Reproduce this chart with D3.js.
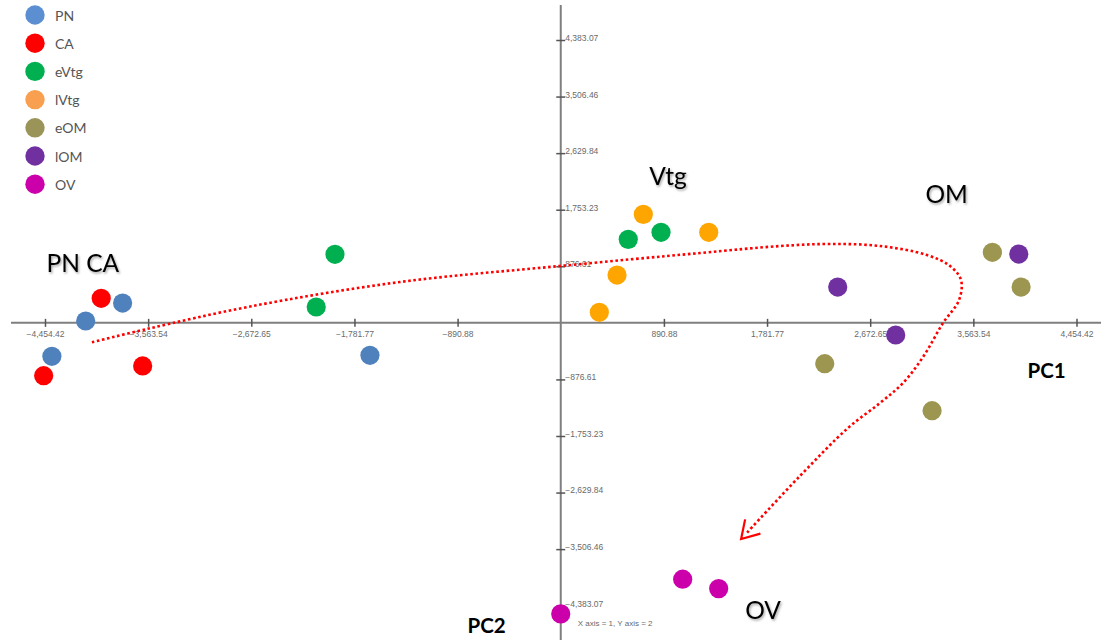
<!DOCTYPE html>
<html>
<head>
<meta charset="utf-8">
<script src="https://cdn.jsdelivr.net/npm/d3@7"></script>
<style>
  body { margin: 0; background: #fff; }
  svg { display: block; }
  .tick text { font-family: "Liberation Sans", Arial, sans-serif; font-size: 8.5px; fill: #6a6a6a; }
  .tick line { stroke: #555; stroke-width: 1.5; }
</style>
</head>
<body>
<div id="chart"></div>
<script>
// groups and colours
var groups = ["PN", "CA", "eVtg", "lVtg", "eOM", "lOM", "OV"];
var pointColors = ["#4f81bd", "#ff0000", "#00b050", "#ffa500", "#9c9650", "#7030a0", "#cc00aa"];
var legendColors = ["#5b8fd2", "#ff0000", "#00b050", "#f8a050", "#9a9458", "#7030a0", "#cc00aa"];

// PC1 / PC2 scores per group
var pnPC1 = [-3784, -4103, -4395, -1648];
var pnPC2 = [307, 29, -518, -503];
var caPC1 = [-3969, -4466, -3611];
var caPC2 = [380, -819, -668];
var eVtgPC1 = [-1950, -2112, 583, 866];
var eVtgPC2 = [1062, 246, 1294, 1403];
var lVtgPC1 = [713, 1278, 486, 333];
var lVtgPC2 = [1681, 1403, 741, 163];
var eOmPC1 = [3728, 3976, 2280, 3207];
var eOmPC2 = [1093, 555, -633, -1361];
var lOmPC1 = [3956, 2392, 2893];
var lOmPC2 = [1066, 555, -188];
var ovPC1 = [1053, 1364, 0];
var ovPC2 = [-3972, -4118, -4510];

// axis ticks
var xTicks = [-4454.42, -3563.54, -2672.65, -1781.77, -890.88, 890.88, 1781.77, 2672.65, 3563.54, 4454.42];
var yTicks = [-4383.07, -3506.46, -2629.84, -1753.23, -876.61, 876.61, 1753.23, 2629.84, 3506.46, 4383.07];

// trajectory drawn over the scores
var trajPC1 = [-4049, -3574, -2684, -1388, -6, 1203, 1894, 2326, 2757, 3163, 3362, 3457, 3440, 3302, 3129, 2956, 2757, 2481, 2066, 1605];
var trajPC2 = [-301, -95, 253, 633, 881, 1082, 1190, 1222, 1191, 1051, 881, 664, 354, -2, -529, -932, -1242, -1629, -2373, -3258];

var pc1 = [pnPC1, caPC1, eVtgPC1, lVtgPC1, eOmPC1, lOmPC1, ovPC1];
var pc2 = [pnPC2, caPC2, eVtgPC2, lVtgPC2, eOmPC2, lOmPC2, ovPC2];

var points = [];
groups.forEach(function(g, i) {
  pc1[i].forEach(function(v, j) {
    points.push({group: g, color: pointColors[i], x: v, y: pc2[i][j]});
  });
});

var width = 1101, height = 640;
var svg = d3.select("#chart").append("svg")
  .attr("width", width)
  .attr("height", height);

var defs = svg.append("defs");
var shadow = defs.append("filter").attr("id", "shadow")
  .attr("x", "-20%").attr("y", "-20%").attr("width", "150%").attr("height", "160%");
shadow.append("feDropShadow")
  .attr("dx", 1.2).attr("dy", 1.6).attr("stdDeviation", 1.3)
  .attr("flood-color", "#000").attr("flood-opacity", 0.35);

var x = d3.scaleLinear().domain([-4454.42, 4454.42]).range([45, 1076.5]);
var y = d3.scaleLinear().domain([-4383.07, 4383.07]).range([605.7, 40]);
var fmt = d3.format(",.2f");

// axis lines through the origin
svg.append("line")
  .attr("x1", 11).attr("x2", width)
  .attr("y1", y(0)).attr("y2", y(0))
  .attr("stroke", "#7f7f7f").attr("stroke-width", 2);
svg.append("line")
  .attr("x1", x(0)).attr("x2", x(0))
  .attr("y1", 5).attr("y2", height)
  .attr("stroke", "#7f7f7f").attr("stroke-width", 2);

var xAxis = d3.axisBottom(x).tickValues(xTicks).tickFormat(fmt).tickSize(8).tickPadding(4.5);
svg.append("g")
  .attr("transform", "translate(0," + (y(0) - 4) + ")")
  .call(xAxis)
  .call(function(g) { g.select(".domain").remove(); });

var yAxis = d3.axisRight(y).tickValues(yTicks).tickFormat(fmt).tickSize(9).tickPadding(0);
svg.append("g")
  .attr("transform", "translate(" + (x(0) - 4.5) + ",0)")
  .call(yAxis)
  .call(function(g) {
    g.select(".domain").remove();
    g.selectAll("text").attr("dy", "0.05em");
  });

// dotted trajectory
var traj = trajPC1.map(function(v, i) { return [x(v), y(trajPC2[i])]; });
svg.append("path")
  .attr("d", d3.line().curve(d3.curveCatmullRom.alpha(0.5))(traj))
  .attr("fill", "none")
  .attr("stroke", "#ff0000")
  .attr("stroke-width", 2.6)
  .attr("stroke-dasharray", "2.6 2.6");

// open arrow head at the end of the trajectory
var end = traj[traj.length - 1], prev = traj[traj.length - 2];
var ang = Math.atan2(end[1] - prev[1], end[0] - prev[0]);
var tip = [end[0] + 8 * Math.cos(ang), end[1] + 8 * Math.sin(ang)];
var arm = 20, spread = 0.55;
svg.append("path")
  .attr("d", "M" + (tip[0] - arm * Math.cos(ang - spread)) + "," + (tip[1] - arm * Math.sin(ang - spread)) +
    "L" + tip[0] + "," + tip[1] +
    "L" + (tip[0] - arm * Math.cos(ang + spread)) + "," + (tip[1] - arm * Math.sin(ang + spread)))
  .attr("fill", "none")
  .attr("stroke", "#ff0000")
  .attr("stroke-width", 2.2);

// score points
svg.selectAll(".dot")
  .data(points)
  .enter()
  .append("circle")
  .attr("class", "dot")
  .attr("cx", function(d) { return x(d.x); })
  .attr("cy", function(d) { return y(d.y); })
  .attr("r", 9.6)
  .attr("fill", function(d) { return d.color; });

// group labels
var labelFont = "Lato, 'Open Sans', sans-serif";
function groupLabel(text, px, py, anchor) {
  svg.append("text")
    .attr("x", x(px)).attr("y", y(py))
    .attr("text-anchor", anchor)
    .attr("font-family", labelFont)
    .attr("font-size", 24.5)
    .attr("fill", "#000")
    .attr("filter", "url(#shadow)")
    .text(text);
}
groupLabel("PN CA", -4442, 788, "start");
groupLabel("Vtg", 926, 2136, "middle");
groupLabel("OM", 3333, 1853, "middle");
groupLabel("OV", 1747, -4589, "middle");

// axis names
function axisName(text, px, py) {
  svg.append("text")
    .attr("x", x(px)).attr("y", y(py))
    .attr("text-anchor", "middle")
    .attr("font-family", labelFont)
    .attr("font-weight", "bold")
    .attr("font-size", 20.5)
    .attr("fill", "#000")
    .text(text);
}
axisName("PC1", 4197, -859);
axisName("PC2", -640, -4801);

svg.append("text")
  .attr("x", x(146)).attr("y", y(-4698))
  .attr("font-family", "'Liberation Sans', Arial, sans-serif")
  .attr("font-size", 8)
  .attr("fill", "#6a6a6a")
  .text("X axis = 1, Y axis = 2");

// legend
var legend = svg.append("g").attr("transform", "translate(35,15)");
var item = legend.selectAll(".item")
  .data(groups)
  .enter()
  .append("g")
  .attr("class", "item")
  .attr("transform", function(d, i) { return "translate(0," + (i * 28.2) + ")"; });
item.append("circle")
  .attr("r", 9.7)
  .attr("fill", function(d, i) { return legendColors[i]; });
item.append("text")
  .attr("x", 20)
  .attr("y", 5.5)
  .attr("font-family", labelFont)
  .attr("font-size", 14)
  .attr("fill", "#555")
  .text(function(d) { return d; });
</script>
</body>
</html>
